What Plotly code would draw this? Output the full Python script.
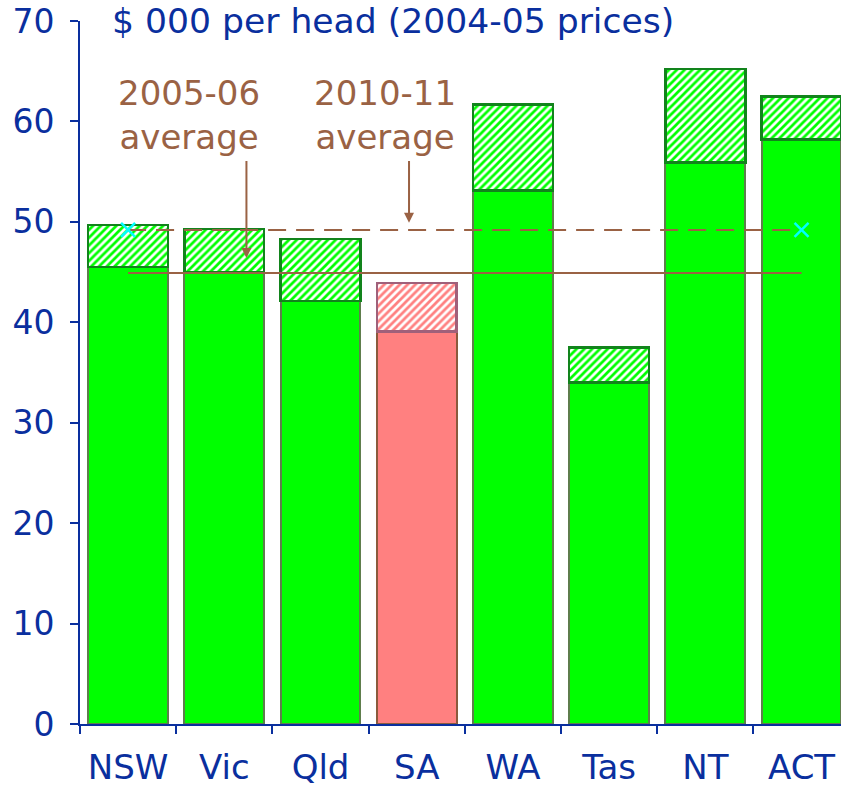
import plotly.graph_objects as go

states = ["NSW", "Vic", "Qld", "SA", "WA", "Tas", "NT", "ACT"]
base_2005 = [45.5, 45.0, 42.1, 39.1, 53.1, 34.0, 55.9, 58.2]
total_2010 = [49.7, 49.3, 48.3, 43.9, 61.7, 37.5, 65.2, 62.5]
increase = [round(t - b, 2) for t, b in zip(total_2010, base_2005)]
avg_2005 = 44.9
avg_2010 = 49.2

GREEN = "#00ff00"
RED = "#ff8080"
BROWN = "#9a6244"
BLUE = "#0a2f9e"
FONT = "DejaVu Sans"

fill_base = [RED if s == "SA" else GREEN for s in states]
line_base = ["#8a5a3c" if s == "SA" else "#5e7d4c" for s in states]
line_top = ["#a0607a" if s == "SA" else "#12841c" for s in states]

fig = go.Figure()
fig.add_trace(go.Bar(
    x=states, y=base_2005, width=0.83,
    marker=dict(color=fill_base, line=dict(color=line_base, width=2)),
    showlegend=False, hoverinfo="skip"))
fig.add_trace(go.Bar(
    x=states, y=increase, width=0.83,
    marker=dict(color="white", line=dict(color=line_top, width=2.5),
                pattern=dict(shape="/", fgcolor=fill_base, bgcolor="white",
                             size=5.5, solidity=0.5, fgopacity=1)),
    showlegend=False, hoverinfo="skip"))

fig.add_trace(go.Scatter(
    x=[states[0], states[-1]], y=[avg_2005, avg_2005], mode="lines",
    line=dict(color=BROWN, width=2), showlegend=False, hoverinfo="skip"))
fig.add_trace(go.Scatter(
    x=[states[0], states[-1]], y=[avg_2010, avg_2010], mode="lines+markers",
    line=dict(color=BROWN, width=2, dash="18px,10px"),
    marker=dict(symbol="x-thin", size=14, color="cyan",
                line=dict(color="cyan", width=2.5)),
    showlegend=False, hoverinfo="skip"))

fig.add_annotation(text="$ 000 per head (2004-05 prices)", xref="paper", yref="y",
                   x=0.039, y=70, xanchor="left", yanchor="middle",
                   showarrow=False, font=dict(family=FONT, size=34.6, color=BLUE))

fig.add_annotation(text="2005-06<br>average", x=0.63, y=60.6, xref="x", yref="y",
                   showarrow=False, font=dict(family=FONT, size=34, color=BROWN))
fig.add_annotation(text="2010-11<br>average", x=2.67, y=60.6, xref="x", yref="y",
                   showarrow=False, font=dict(family=FONT, size=34, color=BROWN))
fig.add_annotation(x=1.23, y=46.4, ax=1.23, ay=56.2, xref="x", yref="y",
                   axref="x", ayref="y", text="", showarrow=True, arrowhead=2,
                   arrowsize=1, arrowwidth=2, arrowcolor=BROWN)
fig.add_annotation(x=2.92, y=49.9, ax=2.92, ay=56.2, xref="x", yref="y",
                   axref="x", ayref="y", text="", showarrow=True, arrowhead=2,
                   arrowsize=1, arrowwidth=2, arrowcolor=BROWN)

fig.update_layout(
    width=841, height=788, barmode="stack",
    margin=dict(l=80, r=0, t=21, b=64, autoexpand=False),
    plot_bgcolor="white", paper_bgcolor="white",
    xaxis=dict(range=[-0.5, 7.41], showline=True, linecolor=BLUE, linewidth=2,
               ticks="outside", tickson="boundaries", ticklen=8, tickwidth=2,
               tickcolor=BLUE, tickfont=dict(family=FONT, size=34, color=BLUE),
               ticklabelstandoff=12, showgrid=False, automargin=False),
    yaxis=dict(range=[0, 70], dtick=10, showline=True, linecolor=BLUE, linewidth=2,
               ticks="outside", ticklen=8, tickwidth=2, tickcolor=BLUE,
               tickfont=dict(family=FONT, size=33, color=BLUE), showgrid=False,
               ticklabelstandoff=9, zeroline=False, automargin=False),
)

fig.write_html("out.html", config={"displayModeBar": False},
               post_script="document.body.style.margin='0';"
                           "document.body.style.overflow='hidden';")
